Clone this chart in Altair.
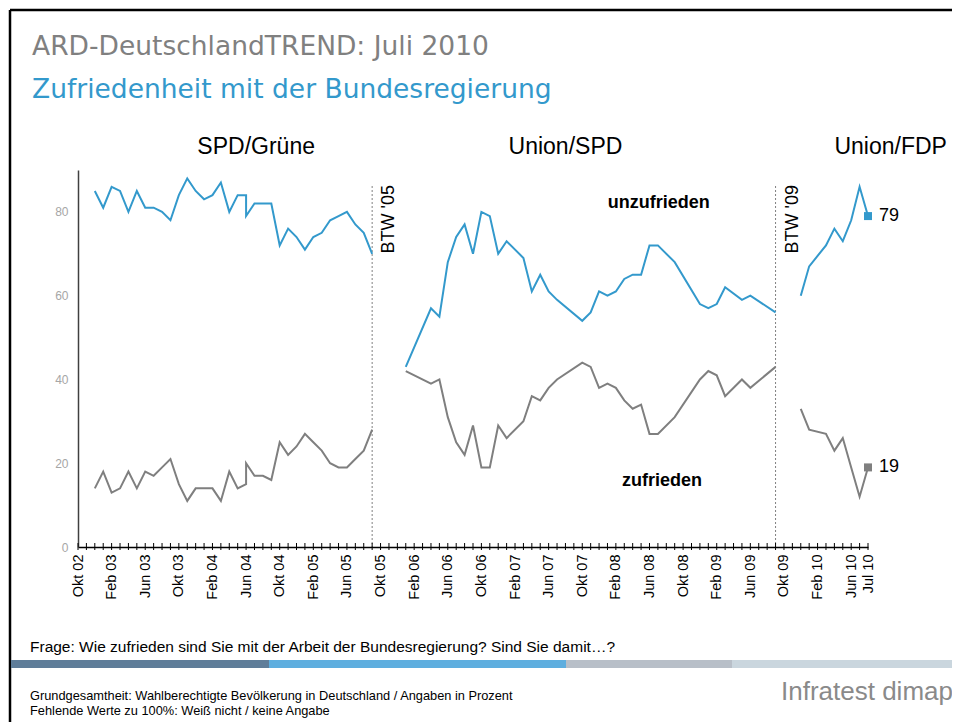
import altair as alt
import pandas as pd

# ---------------- data ----------------
# x = survey index (0 = Okt 02, one step per monthly tick)
s1_idx = [2, 3, 4, 5, 6, 7, 8, 9, 10, 11, 12, 13, 14, 15, 16, 17, 18, 19, 20, 20,
          21, 22, 23, 24, 25, 26, 27, 28, 29, 30, 31, 32, 33, 34, 35]
s1_unzufrieden = [85, 81, 86, 85, 80, 85, 81, 81, 80, 78, 84, 88, 85, 83, 84, 87, 80, 84, 84, 79,
                  82, 82, 82, 72, 76, 74, 71, 74, 75, 78, 79, 80, 77, 75, 70]
s1_zufrieden = [14, 18, 13, 14, 18, 14, 18, 17, 19, 21, 15, 11, 14, 14, 14, 11, 18, 14, 15, 20,
                17, 17, 16, 25, 22, 24, 27, 25, 23, 20, 19, 19, 21, 23, 28]

s2_idx = [39, 42, 43, 44, 45, 46, 47, 48, 49, 50, 51, 53, 54, 55, 56, 57, 60, 61, 62, 63,
          64, 65, 66, 67, 68, 69, 71, 74, 75, 76, 77, 79, 80, 83]
s2_unzufrieden = [43, 57, 55, 68, 74, 77, 70, 80, 79, 70, 73, 69, 61, 65, 61, 59, 54, 56, 61, 60,
                  61, 64, 65, 65, 72, 72, 68, 58, 57, 58, 62, 59, 60, 56]
s2_zufrieden = [42, 39, 40, 31, 25, 22, 29, 19, 19, 29, 26, 30, 36, 35, 38, 40, 44, 43, 38, 39,
                38, 35, 33, 34, 27, 27, 31, 40, 42, 41, 36, 40, 38, 43]

s3_idx = [86, 87, 89, 90, 91, 92, 93, 94]
s3_unzufrieden = [60, 67, 72, 76, 73, 78, 86, 79]
s3_zufrieden = [33, 28, 27, 23, 26, 19, 12, 19]

tick_idx = list(range(95))
label_idx = [0, 4, 8, 12, 16, 20, 24, 28, 32, 36, 40, 44, 48, 52, 56, 60, 64, 68, 72, 76,
             80, 84, 88, 92, 94]
label_txt = ["Okt 02", "Feb 03", "Jun 03", "Okt 03", "Feb 04", "Jun 04", "Okt 04", "Feb 05",
             "Jun 05", "Okt 05", "Feb 06", "Jun 06", "Okt 06", "Feb 07", "Jun 07", "Okt 07",
             "Feb 08", "Jun 08", "Okt 08", "Feb 09", "Jun 09", "Okt 09", "Feb 10", "Jun 10",
             "Jul 10"]

btw_idx = [35, 83]
btw_txt = ["BTW '05", "BTW '09"]

section_names = ["SPD/Grüne", "Union/SPD", "Union/FDP"]
section_idx = [21.2, 58.0, 96.7]

word_names = ["unzufrieden", "zufrieden"]
word_idx = [69.1, 69.5]
word_val = [82.1, 15.8]

BLUE = "#3399cc"
GRAY = "#7f7f7f"

# ---------------- build tables ----------------
rows = []
for sec, idxs, unz, zuf in [("s1", s1_idx, s1_unzufrieden, s1_zufrieden),
                            ("s2", s2_idx, s2_unzufrieden, s2_zufrieden),
                            ("s3", s3_idx, s3_unzufrieden, s3_zufrieden)]:
    for i, (x, u, z) in enumerate(zip(idxs, unz, zuf)):
        rows.append({"idx": x, "value": u, "series": "unzufrieden", "grp": sec + "u", "ord": i})
        rows.append({"idx": x, "value": z, "series": "zufrieden", "grp": sec + "z", "ord": i})
df = pd.DataFrame(rows)
df_end = pd.DataFrame({"idx": [s3_idx[-1], s3_idx[-1]],
                       "value": [s3_unzufrieden[-1], s3_zufrieden[-1]],
                       "series": ["unzufrieden", "zufrieden"]})
df_btw = pd.DataFrame({"idx": btw_idx, "label": btw_txt})
df_sec = pd.DataFrame({"idx": section_idx, "name": section_names})
df_words = pd.DataFrame({"idx": word_idx, "value": word_val, "name": word_names})
df_ticks = pd.DataFrame({"idx": tick_idx})

arr = [""] * 95
for i, t in zip(label_idx, label_txt):
    arr[i] = t
label_expr = "[" + ",".join("'%s'" % s for s in arr) + "][datum.value]"

xscale = alt.Scale(domain=[0, 94], nice=False, zero=False)
yscale = alt.Scale(domain=[0, 90], nice=False)
cscale = alt.Scale(domain=["unzufrieden", "zufrieden"], range=[BLUE, GRAY])

x_axis = alt.Axis(values=label_idx, labelExpr=label_expr, labelAngle=270,
                  labelFontSize=14.5, labelColor="black", labelPadding=7, ticks=False,
                  domainColor="black", domainWidth=1.5, title=None,
                  grid=False, labelOverlap=False, labelFlush=False, labelFont="Liberation Sans")
y_axis = alt.Axis(values=[0, 20, 40, 60, 80], ticks=False, labelColor="#a6a6a6",
                  labelFontSize=12, labelPadding=10, domainColor="#404040", domainWidth=1.5,
                  title=None, grid=False, labelFont="Liberation Sans")

X = lambda: alt.X("idx:Q", scale=xscale, axis=x_axis)
Y = lambda: alt.Y("value:Q", scale=yscale, axis=y_axis)

lines = alt.Chart(df).mark_line(strokeWidth=2).encode(
    x=X(), y=Y(),
    color=alt.Color("series:N", scale=cscale, legend=None),
    detail="grp:N",
    order="ord:Q",
)

ticks = alt.Chart(df_ticks).mark_rule(color="black", strokeWidth=1).encode(
    x=X(), y=alt.value(373), y2=alt.value(380))

ends = alt.Chart(df_end).mark_square(size=64, opacity=1).encode(
    x=X(), y=Y(), color=alt.Color("series:N", scale=cscale, legend=None))
end_txt = alt.Chart(df_end).mark_text(align="left", baseline="middle", dx=11, fontSize=18,
                                      font="Liberation Sans", color="black").encode(
    x=X(), y=Y(), text=alt.Text("value:Q"))

btw_rule = alt.Chart(df_btw).mark_rule(color="#808080", strokeDash=[2, 2], strokeWidth=1).encode(
    x=X(), y=alt.value(16), y2=alt.value(377))
btw_text = alt.Chart(df_btw).mark_text(angle=270, align="right", baseline="middle", dy=17,
                                       fontSize=18, font="Liberation Sans", color="black").encode(
    x=X(), y=alt.value(15), text="label:N")

sec_text = alt.Chart(df_sec).mark_text(align="center", baseline="middle", fontSize=23,
                                       font="Liberation Sans", color="black").encode(
    x=X(), y=alt.value(-23), text="name:N")

word_text = alt.Chart(df_words).mark_text(align="center", baseline="middle", fontSize=18,
                                          fontWeight="bold", font="Liberation Sans",
                                          color="black").encode(
    x=X(), y=Y(), text="name:N")

dummy = pd.DataFrame({"a": [0]})

def static_text(txt, x, y, size, color="black", font="Liberation Sans", align="left", weight="normal"):
    return alt.Chart(dummy).mark_text(align=align, baseline="middle", fontSize=size, font=font,
                                      color=color, fontWeight=weight).encode(
        x=alt.value(x), y=alt.value(y), text=alt.value(txt))

def static_rect(x0, x1, y0, y1, color):
    return alt.Chart(dummy).mark_rect(color=color).encode(
        x=alt.value(x0), x2=alt.value(x1), y=alt.value(y0), y2=alt.value(y1))

# plot origin is page (78,170)
frame_top = alt.Chart(dummy).mark_rule(color="black", strokeWidth=2.5).encode(
    x=alt.value(-68), x2=alt.value(890), y=alt.value(-160))
frame_left = alt.Chart(dummy).mark_rule(color="black", strokeWidth=2.5).encode(
    x=alt.value(-68), y=alt.value(-160), y2=alt.value(570))

band = [static_rect(-67, 191, 490, 498, "#5f7d99"),
        static_rect(191, 488, 490, 498, "#5eaedf"),
        static_rect(488, 654, 490, 498, "#b8bfc8"),
        static_rect(654, 890, 490, 498, "#cad6de")]

texts = [
    static_text("ARD-DeutschlandTREND: Juli 2010", -46, -123, 26.5, "#808080", "DejaVu Sans"),
    static_text("Zufriedenheit mit der Bundesregierung", -46, -80, 26.5, BLUE, "DejaVu Sans"),
    static_text("Frage: Wie zufrieden sind Sie mit der Arbeit der Bundesregierung? Sind Sie damit…?",
                -48, 477, 15.5),
    static_text("Grundgesamtheit: Wahlberechtigte Bevölkerung in Deutschland / Angaben in Prozent",
                -48, 526, 12.8),
    static_text("Fehlende Werte zu 100%: Weiß nicht / keine Angabe", -48, 541, 12.8),
    static_text("Infratest dimap", 703, 522, 26, "#8a8a8a", "Liberation Sans"),
]

chart = alt.layer(
    frame_top, frame_left, *band, *texts,
    btw_rule, ticks, lines, ends, end_txt, btw_text, sec_text, word_text,
).properties(
    width=790, height=377,
    autosize=alt.AutoSizeParams(type="none"),
    padding={"left": 70, "top": 162, "right": 84, "bottom": 175},
).configure(background="white").configure_view(stroke=None)

chart.save("out.html", embed_options={"renderer": "svg", "actions": False})
